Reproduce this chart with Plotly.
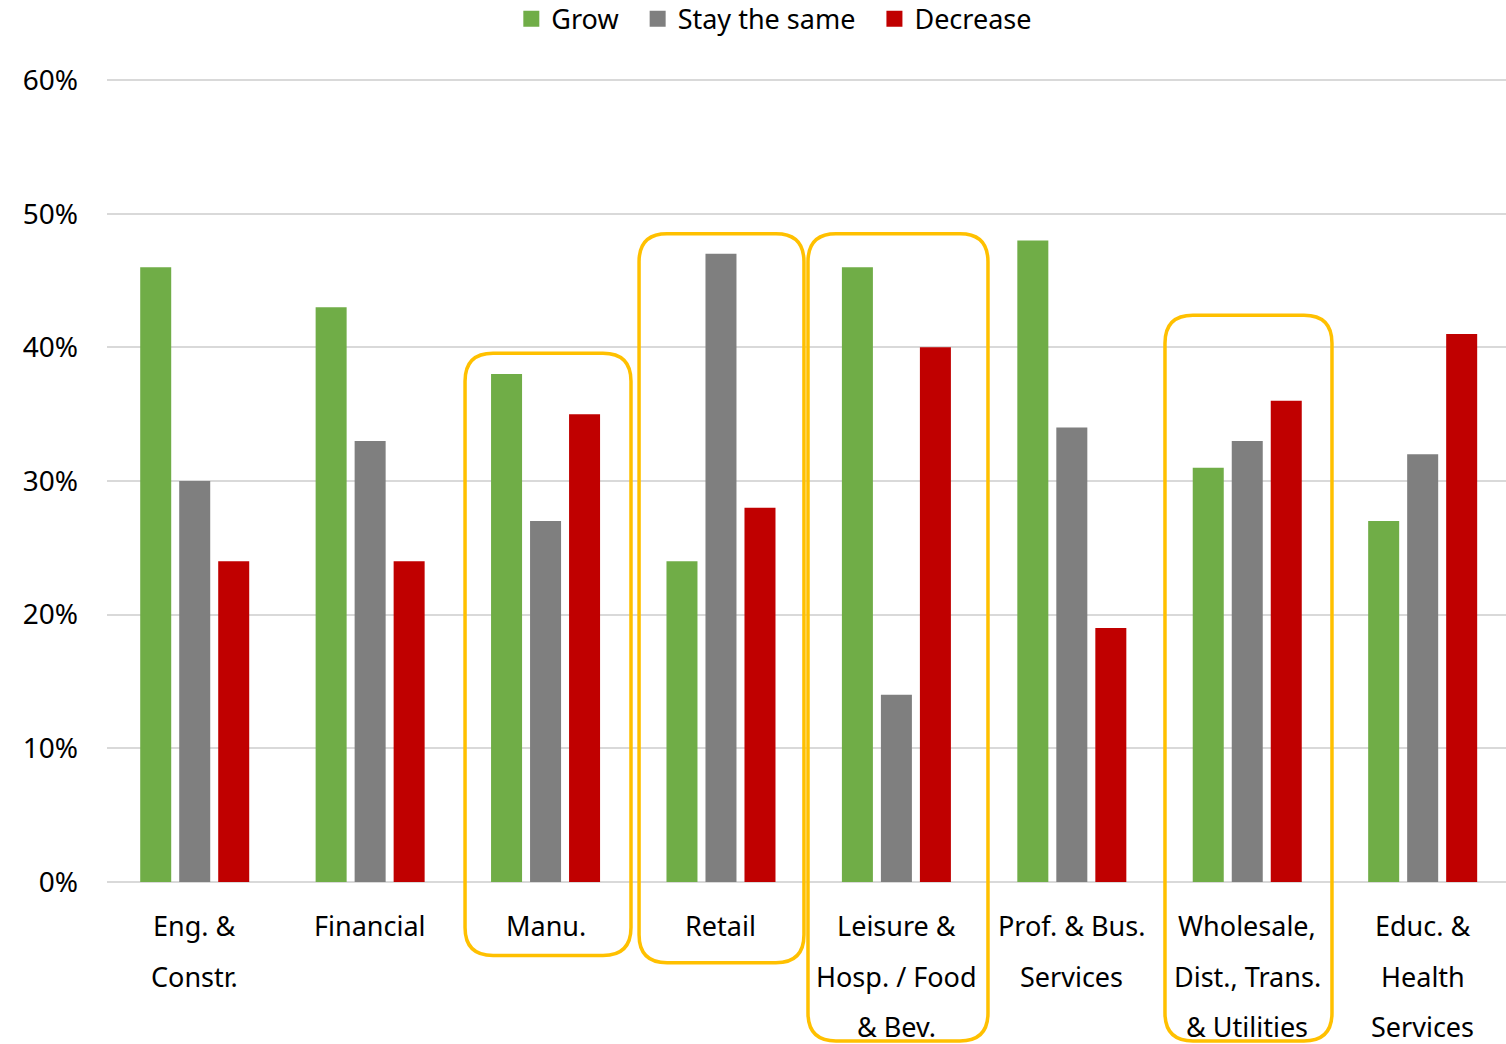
import plotly.graph_objects as go

# ---- data ----
categories = ["Eng. &<br>Constr.", "Financial", "Manu.", "Retail",
              "Leisure &<br>Hosp. / Food<br>& Bev.", "Prof. & Bus.<br>Services",
              "Wholesale,<br>Dist., Trans.<br>& Utilities", "Educ. &<br>Health<br>Services"]
grow = [46, 43, 38, 24, 46, 48, 31, 27]
stay = [30, 33, 27, 47, 14, 34, 33, 32]
decrease = [24, 24, 35, 28, 40, 19, 36, 41]
series_names = ["Grow", "Stay the same", "Decrease"]
y_ticks = [0, 10, 20, 30, 40, 50, 60]
y_tick_text = ["0%", "10%", "20%", "30%", "40%", "50%", "60%"]

# highlighted groups: (x0, x1, y_bottom, y_top) in category-index / percent units
highlights = [
    (1.541, 2.487, -5.5, 39.55),
    (2.533, 3.473, -6.05, 48.5),
    (3.496, 4.522, -11.9, 48.5),
    (5.531, 6.483, -11.9, 42.4),
]

# ---- style ----
colors = ["#70AD47", "#7F7F7F", "#C00000"]
W, H = 1506, 1044
ML, MR, MT, MB = 107, 0, 79, 161
FONT = "Noto Sans"
FS = 27
FS_Y = 28
YMAX = 60
YPAD = 0.08
XMIN, XMAX = -0.5, 7.475

plot_w = W - ML - MR
plot_h = H - MT - MB
xs = list(range(len(categories)))

fig = go.Figure()
for name, vals, c in zip(series_names, [grow, stay, decrease], colors):
    fig.add_trace(go.Bar(x=xs, y=vals, name=name, marker=dict(color=c, line=dict(width=0)),
                         showlegend=False))
legend_labels = [n + ("\u00a0\u00a0" if i < len(series_names) - 1 else "")
                 for i, n in enumerate(series_names)]
for name, c in zip(legend_labels, colors):
    fig.add_trace(go.Scatter(x=[None], y=[None], mode="markers", name=name,
                             marker=dict(symbol="square", size=16, color=c)))

# category labels, one annotation per line
line_gap = 50.5
for i, cat in enumerate(categories):
    for k, line in enumerate(cat.split("<br>")):
        fig.add_annotation(x=i, y=YPAD / (YMAX + 2 * YPAD), xref="x", yref="paper", text=line,
                           showarrow=False, yanchor="middle", xanchor="center",
                           yshift=-44 - line_gap * k,
                           font=dict(family=FONT, size=FS, color="#000000"))

# rounded highlight boxes
r_px = 28
unit_px = plot_w / (XMAX - XMIN)
rx = r_px / unit_px
ry = r_px / plot_h
span = YMAX + 2 * YPAD
for x0, x1, yb, yt in highlights:
    y0 = (yb + YPAD) / span
    y1 = (yt + YPAD) / span
    path = (f"M {x0+rx},{y1} L {x1-rx},{y1} Q {x1},{y1} {x1},{y1-ry} "
            f"L {x1},{y0+ry} Q {x1},{y0} {x1-rx},{y0} L {x0+rx},{y0} "
            f"Q {x0},{y0} {x0},{y0+ry} L {x0},{y1-ry} Q {x0},{y1} {x0+rx},{y1} Z")
    fig.add_shape(type="path", path=path, xref="x", yref="paper",
                  line=dict(color="#FFC000", width=3.5), fillcolor="rgba(0,0,0,0)", layer="above")

fig.update_layout(
    width=W, height=H,
    margin=dict(l=ML, r=MR, t=MT, b=MB, autoexpand=False),
    paper_bgcolor="white", plot_bgcolor="white",
    barmode="group", bargap=0.333, bargroupgap=0.205,
    font=dict(family=FONT, size=FS, color="#000000"),
    legend=dict(orientation="h", x=0.477, xanchor="center", y=1.105, yanchor="top",
                font=dict(family=FONT, size=FS, color="#000000"), itemwidth=30,
                bgcolor="rgba(0,0,0,0)"),
    xaxis=dict(range=[XMIN, XMAX], showticklabels=False, showgrid=False,
               zeroline=False, showline=False, ticks=""),
    yaxis=dict(range=[-YPAD, YMAX + YPAD], tickvals=y_ticks, ticktext=y_tick_text,
               showgrid=True, gridcolor="#D9D9D9", gridwidth=2, zeroline=False,
               showline=False, ticks="", ticklabelstandoff=28,
               tickfont=dict(family=FONT, size=FS_Y, color="#000000")),
)

fig.write_html("out.html", config={"displayModeBar": False},
               post_script="document.body.style.margin='0';document.body.style.overflow='hidden';")
